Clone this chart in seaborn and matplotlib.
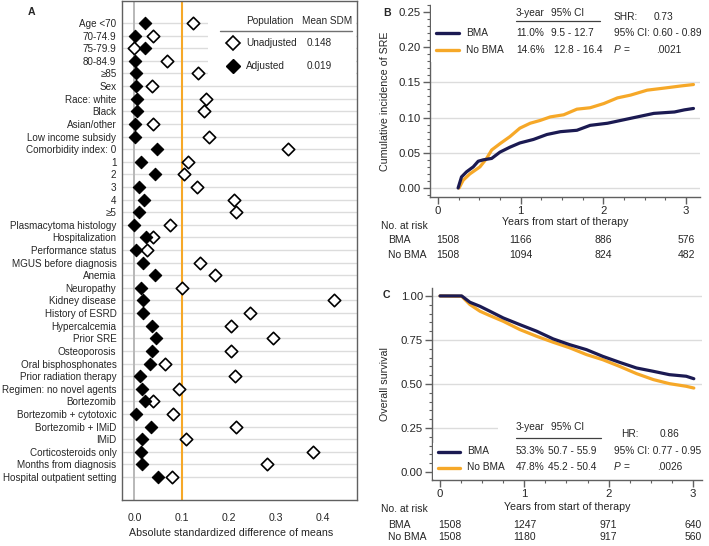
import numpy as np
import pandas as pd
import matplotlib
matplotlib.use("Agg")
import matplotlib.pyplot as plt
import matplotlib.font_manager as fm
from matplotlib.lines import Line2D
from matplotlib.patches import Rectangle
from matplotlib.ticker import MultipleLocator, FormatStrFormatter
from matplotlib.transforms import blended_transform_factory
import seaborn as sns

# Panel A: absolute standardized differences
labels = ["Age <70", "70-74.9", "75-79.9", "80-84.9", "≥85", "Sex", "Race: white", "Black",
          "Asian/other", "Low income subsidy", "Comorbidity index: 0", "1", "2", "3", "4", "≥5",
          "Plasmacytoma histology", "Hospitalization", "Performance status",
          "MGUS before diagnosis", "Anemia", "Neuropathy", "Kidney disease", "History of ESRD",
          "Hypercalcemia", "Prior SRE", "Osteoporosis", "Oral bisphosphonates",
          "Prior radiation therapy", "Regimen: no novel agents", "Bortezomib",
          "Bortezomib + cytotoxic", "Bortezomib + IMiD", "IMiD", "Corticosteroids only",
          "Months from diagnosis", "Hospital outpatient setting"]
unadjusted = [0.124, 0.040, 0.000, 0.069, 0.135, 0.037, 0.152, 0.148, 0.039, 0.158, 0.326,
              0.113, 0.106, 0.133, 0.212, 0.216, 0.076, 0.040, 0.027, 0.138, 0.170, 0.100,
              0.423, 0.246, 0.204, 0.294, 0.204, 0.065, 0.213, 0.094, 0.040, 0.081, 0.216,
              0.110, 0.379, 0.282, 0.080]
adjusted = [0.023, 0.002, 0.023, 0.002, 0.004, 0.004, 0.005, 0.005, 0.002, 0.002, 0.048,
            0.013, 0.044, 0.009, 0.021, 0.009, 0.000, 0.025, 0.003, 0.018, 0.044, 0.013,
            0.019, 0.019, 0.038, 0.045, 0.038, 0.033, 0.011, 0.016, 0.022, 0.004, 0.036,
            0.016, 0.013, 0.016, 0.049]
mean_sdm = {"Unadjusted": "0.148", "Adjusted": "0.019"}

# Panel B: cumulative incidence of SRE
sre_bma_t = [0.243, 0.284, 0.345, 0.426, 0.486, 0.547, 0.649, 0.75, 0.87, 0.99, 1.155, 1.317,
             1.48, 1.68, 1.84, 2.05, 2.21, 2.41, 2.61, 2.86, 2.98, 3.09]
sre_bma_y = [0.0, 0.0157, 0.023, 0.030, 0.038, 0.040, 0.042, 0.051, 0.058, 0.064, 0.069, 0.076,
             0.080, 0.082, 0.089, 0.092, 0.096, 0.101, 0.106, 0.108, 0.111, 0.113]
sre_nobma_t = [0.255, 0.304, 0.385, 0.507, 0.588, 0.649, 0.75, 0.87, 0.99, 1.115, 1.236, 1.358,
               1.52, 1.68, 1.84, 2.006, 2.17, 2.33, 2.53, 2.74, 2.94, 3.09]
sre_nobma_y = [0.0, 0.011, 0.020, 0.030, 0.042, 0.054, 0.063, 0.073, 0.085, 0.092, 0.096, 0.101,
               0.104, 0.112, 0.114, 0.120, 0.128, 0.132, 0.139, 0.142, 0.145, 0.147]
risk_times = [0, 1, 2, 3]
sre_risk_bma = [1508, 1166, 886, 576]
sre_risk_nobma = [1508, 1094, 824, 482]

# Panel C: overall survival
os_bma_t = [0.0, 0.257, 0.355, 0.474, 0.592, 0.75, 0.947, 1.145, 1.342, 1.54, 1.737, 1.93, 2.13,
            2.33, 2.53, 2.72, 2.92, 3.01]
os_bma_y = [1.0, 1.0, 0.964, 0.941, 0.913, 0.875, 0.837, 0.800, 0.756, 0.723, 0.695, 0.657,
            0.623, 0.591, 0.572, 0.553, 0.544, 0.530]
os_nobma_t = [0.0, 0.257, 0.355, 0.474, 0.592, 0.75, 0.947, 1.145, 1.342, 1.54, 1.737, 1.93,
              2.13, 2.33, 2.53, 2.72, 2.92, 3.01]
os_nobma_y = [1.0, 0.998, 0.951, 0.913, 0.888, 0.856, 0.809, 0.771, 0.737, 0.705, 0.667, 0.638,
              0.600, 0.559, 0.525, 0.502, 0.487, 0.477]
os_risk_bma = [1508, 1247, 971, 640]
os_risk_nobma = [1508, 1180, 917, 560]

NAVY = "#1b1a52"
ORANGE = "#f6a828"
GRID = "#dcdcdc"
SPINE = "#606060"

sns.set_style("white")
names = {f.name for f in fm.fontManager.ttflist}
FONT = "Liberation Sans Narrow" if "Liberation Sans Narrow" in names else "Liberation Sans"
k = 1.18 if FONT == "Liberation Sans Narrow" else 1.0
plt.rcParams["font.family"] = [FONT, "DejaVu Sans"]
FS_LAB = 7.1 * k     # panel A category labels
FS_LEG = 7.3 * k     # legend / tables
FS_AX = 7.7 * k      # axis titles
FS_TICK = 8.2 * k    # KM tick labels
FS_RISK = 7.5 * k

W, H = 709, 546
fig = plt.figure(figsize=(W / 100, H / 100), dpi=100)


def add_ax(l, t, r, b):
    return fig.add_axes([l / W, 1 - b / H, (r - l) / W, (b - t) / H])


def T(x, y, s, **kw):
    kw.setdefault("va", "center")
    kw.setdefault("fontsize", FS_LEG)
    kw.setdefault("zorder", 6)
    fig.text(x / W, 1 - y / H, s, **kw)


def hline(x0, x1, y, **kw):
    fig.add_artist(Line2D([x0 / W, x1 / W], [1 - y / H, 1 - y / H], zorder=6, **kw))


def box(x0, y0, x1, y1):
    fig.add_artist(Rectangle((x0 / W, 1 - y1 / H), (x1 - x0) / W, (y1 - y0) / H,
                             facecolor="white", edgecolor="none", zorder=2.5))


# ---------------- Panel A ----------------
axA = add_ax(122, 1, 357, 500)
dfA = pd.DataFrame({"row": np.arange(len(labels)), "Unadjusted": unadjusted, "Adjusted": adjusted})
for r in dfA["row"]:
    axA.axhline(r, color=GRID, lw=1, zorder=1)
axA.axvline(0, color="#b8b8b8", lw=1.4, zorder=2)
axA.axvline(0.1, color=ORANGE, lw=1.5, zorder=2)
sns.scatterplot(data=dfA, x="Unadjusted", y="row", marker="D", s=40, facecolor="white",
                edgecolor="black", linewidth=1.2, ax=axA, zorder=4)
sns.scatterplot(data=dfA, x="Adjusted", y="row", marker="D", s=40, color="black",
                edgecolor="black", linewidth=0.8, ax=axA, zorder=5)
axA.set_xlim(-0.0265, 0.472)
axA.set_ylim(37.82, -1.745)
axA.set_yticks(dfA["row"])
axA.set_yticklabels(labels, fontsize=FS_LAB)
axA.set_xticks([0, 0.1, 0.2, 0.3, 0.4])
axA.set_xticklabels(["0.0", "0.1", "0.2", "0.3", "0.4"], fontsize=7.6 * k)
axA.tick_params(axis="y", length=0, pad=4)
axA.tick_params(axis="x", length=0, pad=9.5)
axA.set_xlabel("Absolute standardized difference of means", fontsize=FS_AX)
axA.xaxis.set_label_coords((231.5 - 122) / 235, -(528 - 500) / 499, transform=axA.transAxes)
axA.set_ylabel("")
for sp in axA.spines.values():
    sp.set_color(SPINE)
    sp.set_linewidth(1)

# legend of panel A
axA.add_patch(Rectangle((208 / W, 1 - 80 / H), 148 / W, 78 / H, transform=fig.transFigure,
                        facecolor="white", edgecolor="none", zorder=2.5))
T(246, 21, "Population", fontsize=7.2 * k)
T(302, 21, "Mean SDM", fontsize=7.2 * k)
hline(220, 352, 31, color="#707070", lw=1)
axA.plot([233 / W], [1 - 43 / H], transform=fig.transFigure, marker="D", ms=7, mfc="white",
         mec="black", mew=1.2, clip_on=False, zorder=6)
axA.plot([233 / W], [1 - 66 / H], transform=fig.transFigure, marker="D", ms=7, mfc="black",
         mec="black", clip_on=False, zorder=6)
T(246, 43, "Unadjusted", fontsize=7.2 * k)
T(307, 43, mean_sdm["Unadjusted"], fontsize=7.2 * k)
T(246, 66, "Adjusted", fontsize=7.2 * k)
T(307, 66, mean_sdm["Adjusted"], fontsize=7.2 * k)
T(28, 12, "A", fontweight="bold", fontsize=7.6 * k)


def km_axes(ax, xlim, ylim, ymajor, yminor):
    ax.set_xlim(*xlim)
    ax.set_ylim(*ylim)
    ax.xaxis.set_major_locator(MultipleLocator(1))
    ax.xaxis.set_minor_locator(MultipleLocator(0.25))
    ax.yaxis.set_major_locator(MultipleLocator(ymajor))
    ax.yaxis.set_minor_locator(MultipleLocator(yminor))
    ax.yaxis.set_major_formatter(FormatStrFormatter("%.2f"))
    ax.tick_params(which="major", direction="out", length=5, width=1, color=SPINE,
                   labelsize=FS_TICK, pad=1.5, left=True, bottom=True)
    ax.tick_params(which="minor", direction="out", length=2.5, width=0.8, color=SPINE,
                   left=True, bottom=True)
    ax.grid(axis="y", color=GRID, lw=1)
    ax.set_axisbelow(True)
    for s in ["top", "right"]:
        ax.spines[s].set_visible(False)
    for s in ["left", "bottom"]:
        ax.spines[s].set_color(SPINE)
        ax.spines[s].set_linewidth(1)
    ax.set_xlabel("")
    ax.set_ylabel("")


def risk_table(ax, y0, y1, y2, bma, nobma):
    tr = blended_transform_factory(ax.transData, fig.transFigure)
    T(381, y0, "No. at risk", fontsize=FS_RISK)
    T(388, y1, "BMA", fontsize=FS_RISK)
    T(388, y2, "No BMA", fontsize=FS_RISK)
    for i, t in enumerate(risk_times):
        ha = "left" if i == 0 else "center"
        xx = t - 0.025 if i == 0 else t
        ax.text(xx, 1 - y1 / H, str(bma[i]), transform=tr, ha=ha, va="center", fontsize=FS_RISK)
        ax.text(xx, 1 - y2 / H, str(nobma[i]), transform=tr, ha=ha, va="center", fontsize=FS_RISK)


# ---------------- Panel B ----------------
axB = add_ax(430, 5, 700, 197)
sns.lineplot(x=sre_nobma_t, y=sre_nobma_y, color=ORANGE, lw=2.3, sort=False, estimator=None,
             ax=axB, zorder=3)
sns.lineplot(x=sre_bma_t, y=sre_bma_y, color=NAVY, lw=2.3, sort=False, estimator=None,
             ax=axB, zorder=4)
km_axes(axB, (-0.097, 3.169), (-0.0128, 0.26), 0.05, 0.01)
box(431, 4, 700, 62)
T(383, 13, "B", fontweight="bold", fontsize=7.6 * k)
T(385, 101, "Cumulative incidence of SRE", rotation=90, ha="center", fontsize=FS_AX)
T(565, 222, "Years from start of therapy", ha="center", fontsize=FS_AX)
T(516, 13, "3-year")
T(551, 13, "95% CI")
hline(516, 600, 21, color="#404040", lw=0.9)
hline(436, 459, 33, color=NAVY, lw=2.4)
hline(436, 459, 50, color=ORANGE, lw=2.4)
T(466, 33, "BMA")
T(466, 50, "No BMA")
T(516, 33, "11.0%")
T(551, 33, "9.5 - 12.7")
T(516, 50, "14.6%")
T(554, 50, "12.8 - 16.4")
T(614, 17, "SHR:")
T(654, 17, "0.73")
T(614, 33, "95% CI:")
T(653, 33, "0.60 - 0.89")
T(614, 50, "P", fontstyle="italic")
T(623, 50, "=")
T(656, 50, ".0021")
risk_table(axB, 226, 240, 255, sre_risk_bma, sre_risk_nobma)

# ---------------- Panel C ----------------
axC = add_ax(432, 288, 702, 480)
sns.lineplot(x=os_nobma_t, y=os_nobma_y, color=ORANGE, lw=2.3, sort=False, estimator=None,
             ax=axC, zorder=3)
sns.lineplot(x=os_bma_t, y=os_bma_y, color=NAVY, lw=2.3, sort=False, estimator=None,
             ax=axC, zorder=4)
km_axes(axC, (-0.095, 3.107), (-0.045, 1.045), 0.25, 0.05)
box(498, 420, 702, 479)
box(433, 443, 702, 479)
T(383, 295, "C", fontweight="bold", fontsize=7.6 * k)
T(385, 384, "Overall survival", rotation=90, ha="center", fontsize=FS_AX)
T(567, 507, "Years from start of therapy", ha="center", fontsize=FS_AX)
T(516, 427, "3-year")
T(551, 427, "95% CI")
hline(516, 601, 438, color="#404040", lw=0.9)
hline(438, 460, 452, color=NAVY, lw=2.4)
hline(438, 460, 468, color=ORANGE, lw=2.4)
T(467, 451, "BMA")
T(467, 467, "No BMA")
T(516, 451, "53.3%")
T(548, 451, "50.7 - 55.9")
T(516, 467, "47.8%")
T(548, 467, "45.2 - 50.4")
T(621, 434, "HR:")
T(660, 434, "0.86")
T(614, 451, "95% CI: 0.77 - 0.95")
T(614, 467, "P", fontstyle="italic")
T(623, 467, "=")
T(657, 467, ".0026")
risk_table(axC, 509, 525, 537, os_risk_bma, os_risk_nobma)

fig.savefig("out.png", dpi=100)
